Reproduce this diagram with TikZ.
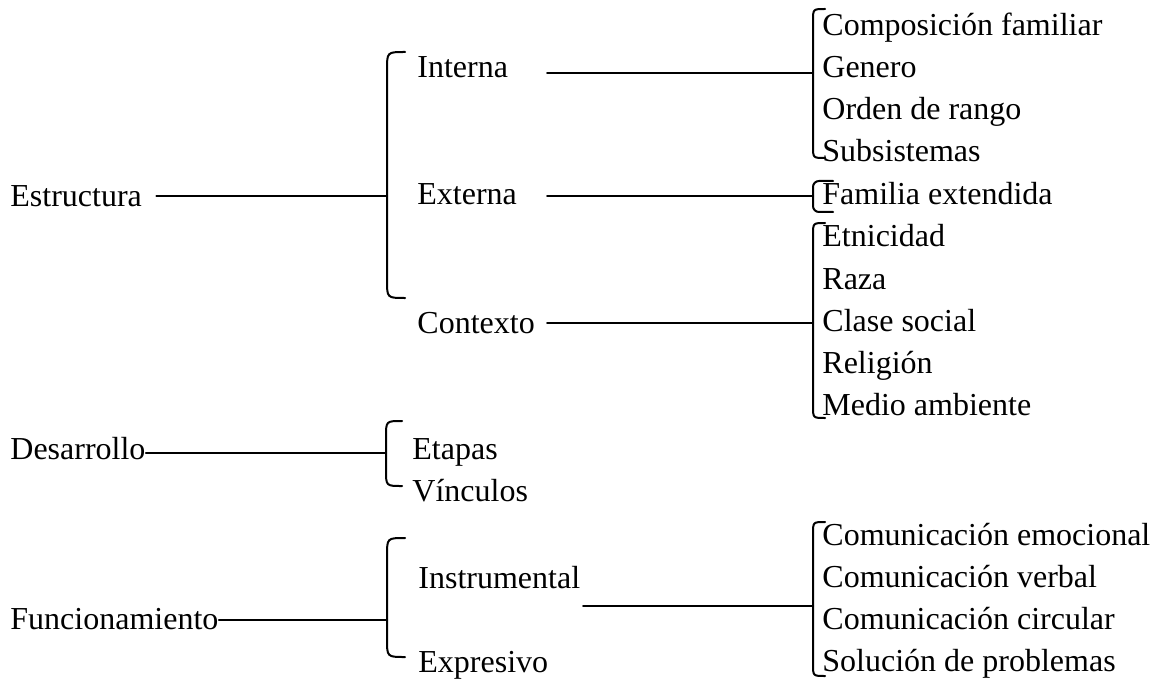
\documentclass[tikz,border=0pt]{standalone}
\usepackage{fontspec}
\setmainfont{Liberation Serif}
\begin{document}
\begin{tikzpicture}[x=0.5pt,y=-0.5pt,
  lbl/.style={anchor=base west, inner sep=0pt, font=\fontsize{16}{19}\selectfont},
  ln/.style={line width=1pt, line cap=round}]
\useasboundingbox (0,0) rectangle (1155,679);
% level 0
\node[lbl] (estr) at (10,206) {Estructura};
\node[lbl] (des) at (10,459) {Desarrollo};
\node[lbl] (fun) at (10,629) {Funcionamiento};
% level 1
\node[lbl] (int) at (417,78) {Interna};
\node[lbl] (ext) at (417,205) {Externa};
\node[lbl] (ctx) at (417,333) {Contexto};
\node[lbl] (eta) at (412,459) {Etapas};
\node[lbl] (vin) at (412,501) {Vínculos};
\node[lbl] (ins) at (418,588) {Instrumental};
\node[lbl] (exp) at (418,672) {Expresivo};
% level 2
\node[lbl] (r1) at (822,36) {Composición familiar};
\node[lbl] (r2) at (822,78) {Genero};
\node[lbl] (r3) at (822,120) {Orden de rango};
\node[lbl] (r4) at (822,162) {Subsistemas};
\node[lbl] (r5) at (822,205) {Familia extendida};
\node[lbl] (r6) at (822,247) {Etnicidad};
\node[lbl] (r7) at (822,289) {Raza};
\node[lbl] (r8) at (822,331) {Clase social};
\node[lbl] (r9) at (822,373) {Religión};
\node[lbl] (r10) at (822,415) {Medio ambiente};
\node[lbl] (c1) at (822,545) {Comunicación emocional};
\node[lbl] (c2) at (822,587) {Comunicación verbal};
\node[lbl] (c3) at (822,629) {Comunicación circular};
\node[lbl] (c4) at (822,671) {Solución de problemas};
% brackets
\draw[ln] (405,52) .. controls (387,52) .. (387,70) -- (387,280) .. controls (387,298) .. (405,298);
\draw[ln] (402,421) .. controls (386,421) .. (386,437) -- (386,470) .. controls (386,486) .. (402,486);
\draw[ln] (405,538) .. controls (387,538) .. (387,556) -- (387,639) .. controls (387,657) .. (405,657);
\draw[ln] (825,9) .. controls (813,9) .. (813,21) -- (813,146) .. controls (813,158) .. (825,158);
\draw[ln, rounded corners=3pt] (833,181) -- (813,181) -- (813,212) -- (833,212);
\draw[ln] (825,223) .. controls (813,223) .. (813,235) -- (813,406) .. controls (813,418) .. (825,418);
\draw[ln] (825,522) .. controls (813,522) .. (813,534) -- (813,664) .. controls (813,676) .. (825,676);
% junction points on brackets
\coordinate (jE) at (387,196);
\coordinate (jD) at (386,453);
\coordinate (jF) at (387,620);
\coordinate (jI) at (813,73);
\coordinate (jX) at (813,196);
\coordinate (jC) at (813,323);
\coordinate (jN) at (813,606);
\coordinate (sI) at (547,73);
\coordinate (sX) at (547,196);
\coordinate (sC) at (547,323);
\coordinate (sN) at (583,606);
% connectors
\draw[ln] ([xshift=7pt]estr.east |- jE) -- (jE);
\draw[ln] (des.east |- jD) -- (jD);
\draw[ln] (fun.east |- jF) -- (jF);
\draw[ln] (sI) -- (jI);
\draw[ln] (sX) -- (jX);
\draw[ln] (sC) -- (jC);
\draw[ln] (sN) -- (jN);
\end{tikzpicture}
\end{document}
